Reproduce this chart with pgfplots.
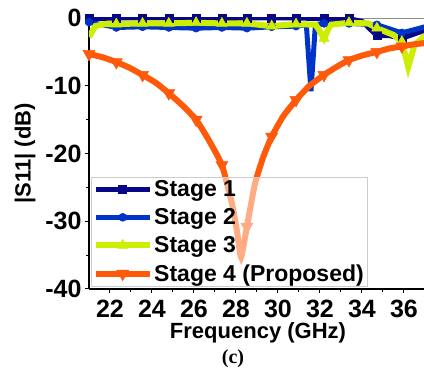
\documentclass[border=0pt]{standalone}
\usepackage{pgfplots}
\pgfplotsset{compat=1.18}
\usepackage{fontspec}
\setmainfont{Liberation Sans}
\newfontfamily\serifbold{Liberation Serif}

\definecolor{sone}{RGB}{8,8,135}
\definecolor{stwo}{RGB}{0,52,200}
\definecolor{sthree}{RGB}{205,238,0}
\definecolor{sfour}{RGB}{255,90,10}

% Stage 4 (proposed)
\pgfplotstableread{
f s
21.00 -5.3
21.65 -5.8
22.30 -6.5
22.90 -7.3
23.55 -8.4
24.20 -9.6
24.80 -11.1
25.45 -12.9
26.10 -15.0
26.70 -18.0
27.33 -21.7
27.80 -27.3
28.05 -31.5
28.24 -35.3
28.52 -30.8
28.90 -24.5
29.30 -20.5
29.70 -17.5
30.25 -14.5
30.86 -12.1
31.50 -10.0
32.19 -8.4
32.80 -7.2
33.38 -6.2
34.05 -5.5
34.71 -5.0
35.30 -4.5
35.90 -4.2
36.45 -3.9
37.00 -3.7
}\stagefour

% Stage 3
\pgfplotstableread{
f s
21.00 -2.8
21.30 -1.2
21.70 -0.9
22.30 -0.9
23.55 -0.8
24.80 -0.8
26.10 -0.7
27.33 -0.8
28.52 -0.8
29.70 -1.2
30.86 -0.9
31.80 -1.0
32.19 -3.0
32.50 -1.0
33.38 -0.7
34.30 -0.8
34.71 -1.5
35.50 -2.5
35.90 -3.5
36.20 -7.2
36.50 -4.0
37.00 -2.6
}\stagethree

% Stage 2
\pgfplotstableread{
f s
21.00 -0.6
22.30 -1.4
23.55 -1.3
24.80 -1.4
26.10 -1.5
27.33 -1.4
28.52 -1.5
29.70 -1.3
30.86 -1.2
31.35 -1.0
31.57 -10.8
31.78 -1.0
32.19 -0.8
33.38 -0.8
34.71 -1.0
35.90 -2.2
37.00 -1.3
}\stagetwo

% Stage 1
\pgfplotstableread{
f s
21.00 -0.1
22.30 0.0
23.55 0.0
24.80 0.0
26.10 0.0
27.33 -0.1
28.52 0.0
29.70 0.0
30.86 0.0
32.19 -0.1
33.38 -0.1
34.00 -0.5
34.71 -2.6
35.30 -2.6
35.90 -3.0
37.00 -1.8
}\stageone

\begin{document}
\begin{tikzpicture}
\useasboundingbox (-89pt,-80pt) rectangle (335pt,289pt);
\begin{axis}[
  scale only axis,
  width=336pt, height=271pt,
  xmin=21, xmax=37, ymin=-40, ymax=0,
  axis x line*=bottom, axis y line*=left,
  axis line style={black, line width=1.2pt, -},
  xtick={22,24,...,36},
  ytick={0,-10,-20,-30,-40},
  minor x tick num=1, minor y tick num=1,
  tick align=outside,
  major tick length=4pt, minor tick length=3pt,
  tick style={black, line width=1pt},
  /pgf/number format/assume math mode=true,
  tick label style={font=\fontsize{25}{25}\selectfont\bfseries},
  xticklabel style={yshift=-4pt},
  xlabel={Frequency (GHz)},
  ylabel={|S11| (dB)},
  label style={font=\fontsize{22}{22}\selectfont\bfseries},
  xlabel style={at={(axis description cs:0.503,-0.163)}, anchor=center},
  ylabel style={at={(axis description cs:-0.19,0.5)}, anchor=center},
  legend cell align=left,
  legend style={at={(axis description cs:0.006,0.011)}, anchor=south west,
    font=\fontsize{23}{23}\selectfont\bfseries,
    fill=white, fill opacity=0.5, text opacity=1, draw=black!20, draw opacity=1,
    inner sep=1.5pt, row sep=7.5pt,
    nodes={inner sep=1.5pt}},
  legend image code/.code={
    \draw[#1, mark indices={2}, fill opacity=1]
      plot coordinates {(0pt,0pt) (27pt,0pt) (54pt,0pt)};
  },
]
\draw[black!45, line width=0.8pt] (rel axis cs:0,1) -- (rel axis cs:1,1);

\addplot[sone, line width=5pt, mark=square*, mark size=4pt,
  mark options={solid, line width=0.5pt},
  mark indices={1,2,3,4,5,6,7,8,9,10,11,13,15}] table[x=f,y=s] {\stageone};
\addlegendentry{Stage 1}

\addplot[stwo, line width=5pt, mark=*, mark size=4pt,
  mark options={solid, line width=0.5pt},
  mark indices={1,2,3,4,5,6,7,8,9,13,14,15,16}] table[x=f,y=s] {\stagetwo};
\addlegendentry{Stage 2}

\addplot[sthree, line width=6pt, mark=triangle*, mark size=6pt,
  mark options={solid, line width=0.5pt},
  mark indices={4,5,6,7,8,9,10,11,13,15,17,19}] table[x=f,y=s] {\stagethree};
\addlegendentry{Stage 3}

\addplot[sfour, line width=6pt, smooth, tension=0.3,
  mark=triangle*, mark size=7pt,
  mark options={solid, rotate=180, line width=0.5pt},
  mark indices={1,3,5,7,9,11,15,18,20,22,24,26,28}] table[x=f,y=s] {\stagefour};
\addlegendentry{Stage 4 (Proposed)}
\end{axis}
\node[font=\serifbold\fontsize{20}{20}\selectfont\bfseries] at (144pt,-70pt) {(c)};
\end{tikzpicture}
\end{document}
